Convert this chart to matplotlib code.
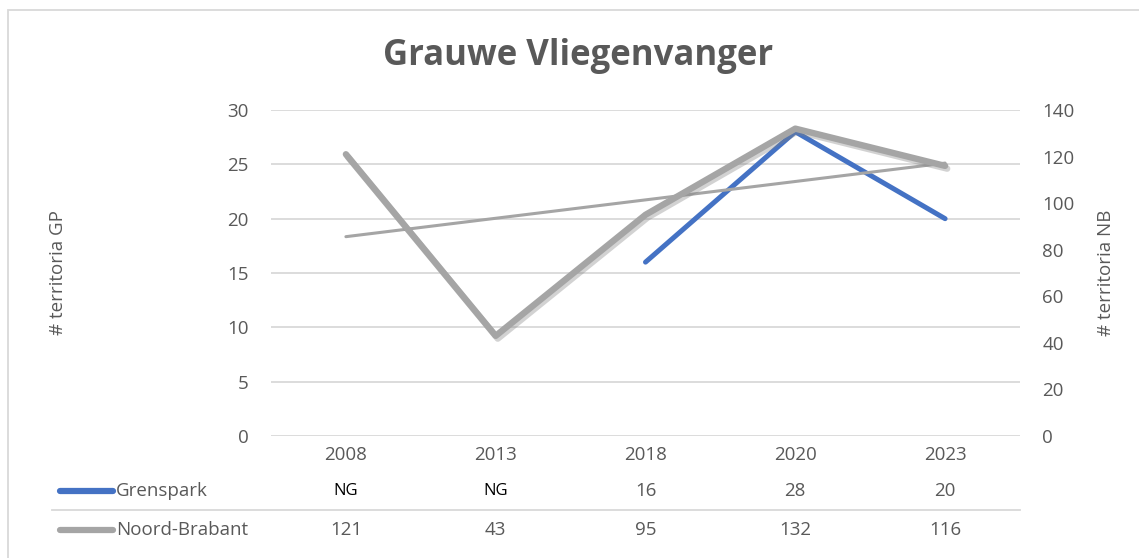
import numpy as np
import matplotlib.pyplot as plt
import matplotlib.patheffects as pe
from matplotlib.lines import Line2D
from matplotlib.patches import Rectangle
from matplotlib.transforms import blended_transform_factory

plt.rcParams['font.family'] = ['Open Sans', 'DejaVu Sans']

years = ['2008', '2013', '2018', '2020', '2023']
grenspark = [np.nan, np.nan, 16, 28, 20]
grenspark_tabel = ['NG', 'NG', '16', '28', '20']
noord_brabant = [121, 43, 95, 132, 116]

grijs = '#595959'
blauw = '#4472C4'
lijn_grijs = '#A5A5A5'
raster = '#D9D9D9'

fig = plt.figure(figsize=(11.39, 5.58), dpi=100)
W, H = 1139, 558

# rand van het grafiekgebied (rechts en onder buiten beeld)
fig.patches.append(Rectangle((8 / W, -0.2), 1.2, 1.2 - 10 / H, transform=fig.transFigure,
                             fill=False, edgecolor=raster, linewidth=1.3))

ax = fig.add_axes([271 / W, 1 - 436 / H, (1020 - 271) / W, (436 - 110) / H])
ax2 = ax.twinx()

x = np.arange(len(years))

ax.plot(x, grenspark, color=blauw, linewidth=3.6, solid_capstyle='round', zorder=3)

schaduw = [pe.SimpleLineShadow(offset=(1.5, -2), alpha=0.35, shadow_color='#7f7f7f'), pe.Normal()]
ax2.plot(x, noord_brabant, color=lijn_grijs, linewidth=4.6, solid_capstyle='round',
         path_effects=schaduw, zorder=3)

# lineaire trendlijn Noord-Brabant
coef = np.polyfit(x, noord_brabant, 1)
ax2.plot(x, np.polyval(coef, x), color=lijn_grijs, linewidth=2.2, solid_capstyle='round', zorder=2)

ax.set_xlim(-0.5, len(years) - 0.5)
ax.set_ylim(0, 30)
ax2.set_ylim(0, 140)
ax.set_yticks(range(0, 31, 5))
ax2.set_yticks(range(0, 141, 20))
ax.set_xticks(x)
ax.set_xticklabels(years)

for a in (ax, ax2):
    for s in a.spines.values():
        s.set_visible(False)
    a.tick_params(length=0, labelsize=13.5, labelcolor=grijs)
ax.tick_params(axis='y', pad=16)
ax2.tick_params(axis='y', pad=16)
ax.tick_params(axis='x', pad=7)

ax.grid(axis='y', color=raster, linewidth=1.3)
ax.set_axisbelow(True)

ax.set_ylabel('# territoria GP', fontsize=13.5, color=grijs)
ax2.set_ylabel('# territoria NB', fontsize=13.5, color=grijs)
ax.yaxis.set_label_coords((67 - 271) / (1020 - 271), 0.5)
ax2.yaxis.set_label_coords((1097 - 271) / (1020 - 271), 0.5)

fig.text(578 / W, 1 - 56 / H, 'Grauwe Vliegenvanger', fontsize=25, fontweight='bold',
         color=grijs, ha='center', va='center')

# datatabel onder de grafiek
trans = blended_transform_factory(ax.transData, fig.transFigure)
rij_gp = 1 - 491 / H
rij_nb = 1 - 530 / H
for i in range(len(years)):
    t = grenspark_tabel[i]
    kleur = 'black' if t == 'NG' else grijs
    ax.text(i, rij_gp, t, transform=trans, fontsize=13.5 if t != 'NG' else 12,
            color=kleur, ha='center', va='center', clip_on=False)
    ax.text(i, rij_nb, str(noord_brabant[i]), transform=trans, fontsize=13.5,
            color=grijs, ha='center', va='center', clip_on=False)

fig.lines.append(Line2D([52 / W, 1020 / W], [1 - 510 / H] * 2, transform=fig.transFigure,
                        color=raster, linewidth=1.3))

fig.lines.append(Line2D([60 / W, 113 / W], [rij_gp] * 2, transform=fig.transFigure,
                        color=blauw, linewidth=4.5, solid_capstyle='round'))
fig.lines.append(Line2D([60 / W, 113 / W], [rij_nb] * 2, transform=fig.transFigure,
                        color=lijn_grijs, linewidth=4.5, solid_capstyle='round'))
fig.text(116 / W, rij_gp, 'Grenspark', fontsize=13.5, color=grijs, ha='left', va='center')
fig.text(116 / W, rij_nb, 'Noord-Brabant', fontsize=13.5, color=grijs, ha='left', va='center')

fig.savefig('out.png', dpi=100)
